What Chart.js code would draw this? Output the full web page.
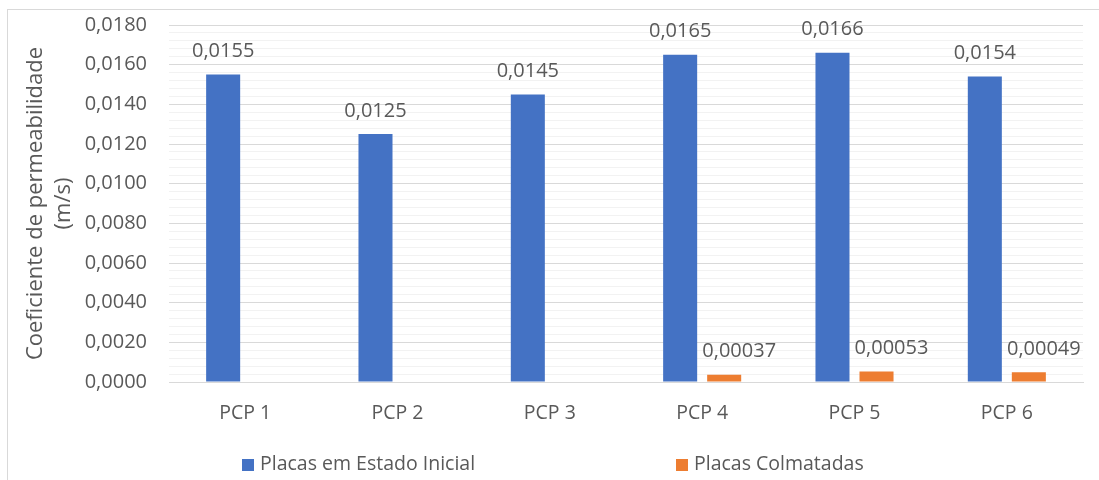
<!DOCTYPE html>
<html>
<head>
<meta charset="utf-8">
<script src="https://cdn.jsdelivr.net/npm/chart.js@4.4.1/dist/chart.umd.min.js"></script>
<style>
  html, body { margin: 0; padding: 0; background: #fff; }
  #wrap { width: 1099px; height: 480px; }
</style>
</head>
<body>
<div id="wrap"><canvas id="perm-chart"></canvas></div>
<script>
const categories = ['PCP 1', 'PCP 2', 'PCP 3', 'PCP 4', 'PCP 5', 'PCP 6'];
const inicial = [0.0155, 0.0125, 0.0145, 0.0165, 0.0166, 0.0154];
const colmatadas = [null, null, null, 0.00037, 0.00053, 0.00049];
const seriesNames = ['Placas em Estado Inicial', 'Placas Colmatadas'];
const yMax = 0.018;
const yMajor = 0.002;
const yMinor = 0.0004;

const textColor = '#595959';
const fontFamily = '"Open Sans", sans-serif';

function isMajor(v) {
  const r = v / yMajor;
  return Math.abs(r - Math.round(r)) < 1e-6;
}

function fmt(v) {
  return String(v).replace('.', ',');
}

// value labels above the bars
const valueLabels = {
  id: 'valueLabels',
  afterDatasetsDraw(chart) {
    const ctx = chart.ctx;
    ctx.save();
    ctx.font = '20px ' + fontFamily;
    ctx.fillStyle = textColor;
    ctx.textAlign = 'center';
    ctx.textBaseline = 'middle';
    chart.data.datasets.forEach((ds, i) => {
      const meta = chart.getDatasetMeta(i);
      meta.data.forEach((bar, j) => {
        const v = ds.data[j];
        if (v == null) return;
        const shift = i === 1 ? 15 : 0;
        ctx.fillText(fmt(v), bar.x + shift, bar.y - 23);
      });
    });
    ctx.restore();
  }
};

// spread-out legend and outer frame, like the original
const frameAndLegend = {
  id: 'frameAndLegend',
  beforeDraw(chart) {
    const ctx = chart.ctx;
    ctx.save();
    ctx.fillStyle = '#fff';
    ctx.fillRect(0, 0, chart.width, chart.height);
    ctx.strokeStyle = '#d9d9d9';
    ctx.lineWidth = 1;
    ctx.strokeRect(7.5, 9.5, 2000, 2000);
    ctx.restore();
  },
  afterDraw(chart) {
    const ctx = chart.ctx;
    const boxX = [242, 676];
    ctx.save();
    ctx.font = '19.5px ' + fontFamily;
    ctx.textBaseline = 'middle';
    ctx.textAlign = 'left';
    chart.data.datasets.forEach((ds, i) => {
      ctx.fillStyle = ds.backgroundColor;
      ctx.fillRect(boxX[i], 459, 12, 12);
      ctx.fillStyle = textColor;
      ctx.fillText(ds.label, boxX[i] + 18, 464);
    });
    ctx.restore();
  }
};

const ctx = document.getElementById('perm-chart').getContext('2d');
new Chart(ctx, {
  type: 'bar',
  data: {
    labels: categories,
    datasets: [
      { label: seriesNames[0], data: inicial, backgroundColor: '#4472C4' },
      { label: seriesNames[1], data: colmatadas, backgroundColor: '#ED7D31' }
    ]
  },
  options: {
    responsive: true,
    maintainAspectRatio: false,
    animation: false,
    layout: { padding: { left: 0, top: 25, right: 16, bottom: 0 } },
    datasets: { bar: { categoryPercentage: 0.578, barPercentage: 0.773 } },
    plugins: {
      legend: { display: false },
      tooltip: { enabled: false }
    },
    scales: {
      x: {
        grid: { display: false },
        border: { color: '#d9d9d9' },
        ticks: { color: textColor, font: { family: fontFamily, size: 19.5 }, padding: 12 },
        afterFit(scale) { scale.height = 98; }
      },
      y: {
        min: 0,
        max: yMax,
        border: { display: false },
        grid: {
          drawTicks: false,
          color: (c) => isMajor(c.tick.value) ? '#d9d9d9' : '#f2f2f2'
        },
        ticks: {
          stepSize: yMinor,
          autoSkip: false,
          padding: 22,
          color: textColor,
          font: { family: fontFamily, size: 20 },
          callback: (v) => isMajor(v) ? (Math.round(v * 10000) / 10000).toFixed(4).replace('.', ',') : ''
        },
        title: {
          display: true,
          text: ['Coeficiente de permeabilidade', '(m/s)'],
          color: textColor,
          font: { family: fontFamily, size: 22, lineHeight: 1.3 },
          padding: { top: 21, bottom: 0 }
        },
        afterFit(scale) {
          scale.width = 169;
          scale.paddingTop = 0;
          scale.paddingBottom = 0;
        }
      }
    }
  },
  plugins: [frameAndLegend, valueLabels]
});
</script>
</body>
</html>
